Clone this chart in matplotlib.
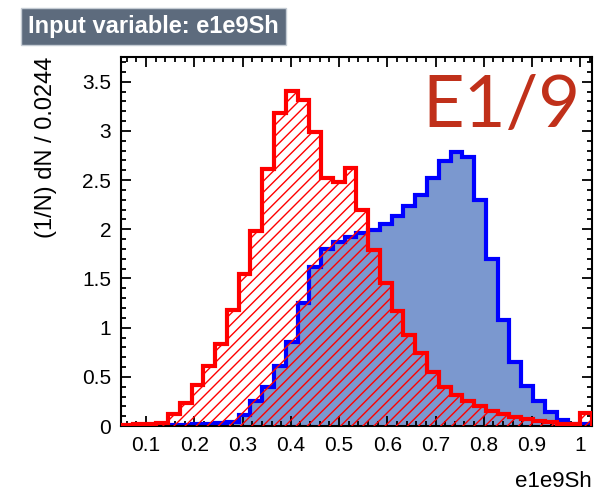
import matplotlib
matplotlib.use("Agg")
import matplotlib.pyplot as plt
from matplotlib.ticker import MultipleLocator
import numpy as np

plt.rcParams['font.family'] = ['Liberation Sans', 'DejaVu Sans']
plt.rcParams['hatch.linewidth'] = 1.0

# binning of e1e9Sh: 40 bins of width 0.0244
x_min = 0.048
bin_width = 0.0244
n_bins = 40

# normalised signal (blue) and background (red) contents per bin
signal = [0.0, 0.0, 0.0, 0.0, 0.01, 0.01, 0.02, 0.02, 0.03, 0.04,
          0.11, 0.25, 0.40, 0.61, 0.85, 1.25, 1.62, 1.80, 1.87, 1.92,
          1.96, 1.99, 2.05, 2.13, 2.24, 2.35, 2.52, 2.69, 2.79, 2.73,
          2.30, 1.70, 1.08, 0.65, 0.41, 0.25, 0.14, 0.06, 0.02, 0.02]
background = [0.01, 0.02, 0.02, 0.03, 0.12, 0.235, 0.42, 0.61, 0.83, 1.18,
              1.55, 1.98, 2.61, 3.18, 3.41, 3.31, 2.99, 2.52, 2.48, 2.62,
              2.20, 1.79, 1.45, 1.17, 0.93, 0.74, 0.55, 0.40, 0.32, 0.25,
              0.20, 0.15, 0.12, 0.09, 0.07, 0.05, 0.04, 0.02, 0.02, 0.13]

edges = x_min + bin_width * np.arange(n_bins + 1)

fig = plt.figure(figsize=(5.99, 4.92), dpi=100)
ax = fig.add_axes([0.202, 0.134, 0.786, 0.750])

# signal: filled blue
ax.stairs(signal, edges, fill=True, facecolor='#7b98cf', edgecolor='none', zorder=1)
ax.stairs(signal, edges, fill=False, edgecolor='#0000ff', linewidth=3.0, zorder=2)
# background: red hatched
ax.stairs(background, edges, fill=True, facecolor='none', edgecolor='#ff0000',
          hatch='///', linewidth=0, zorder=3)
ax.stairs(background, edges, fill=False, edgecolor='#ff0000', linewidth=3.0, zorder=4)

ax.set_xlim(edges[0], edges[-1])
ax.set_ylim(0, 3.75)

ax.xaxis.set_major_locator(MultipleLocator(0.1))
ax.xaxis.set_minor_locator(MultipleLocator(0.02))
ax.yaxis.set_major_locator(MultipleLocator(0.5))
ax.yaxis.set_minor_locator(MultipleLocator(0.1))
ax.tick_params(which='both', direction='in', top=True, right=True,
               color='black', width=1.3)
ax.tick_params(which='major', length=7, labelsize=15, pad=7)
ax.tick_params(which='minor', length=3.5)
ax.xaxis.set_major_formatter(plt.FuncFormatter(lambda v, p: f'{v:g}'))
ax.yaxis.set_major_formatter(plt.FuncFormatter(lambda v, p: f'{v:g}'))
for s in ax.spines.values():
    s.set_linewidth(1.5)

ax.set_xlabel('e1e9Sh', fontsize=16, loc='right', labelpad=12)
ax.set_ylabel('(1/N) dN / 0.0244', fontsize=17, loc='top', labelpad=18)

fig.text(0.047, 0.946, 'Input variable: e1e9Sh', color='white', fontsize=17,
         fontweight='bold', va='center', ha='left',
         bbox=dict(boxstyle='square,pad=0.3', facecolor='#5d6b7d', edgecolor='#c5ccd4'))

ax.text(0.975, 0.955, 'E1/9', transform=ax.transAxes, ha='right', va='top',
        fontsize=52, color='#c0301a', family=['Lato', 'DejaVu Sans'])

fig.savefig('out.png', dpi=100)
